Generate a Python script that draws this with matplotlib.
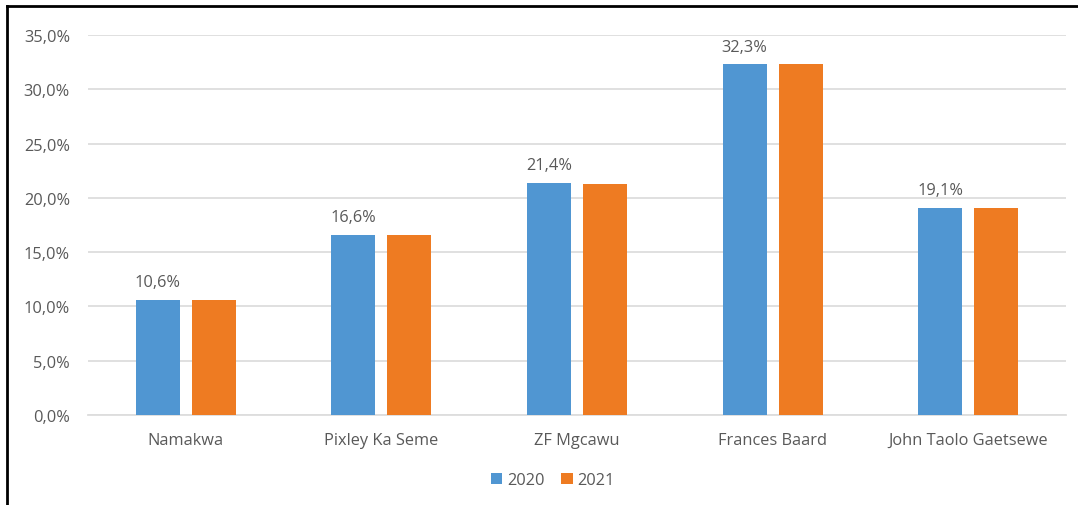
import matplotlib
matplotlib.use("Agg")
import matplotlib.pyplot as plt
from matplotlib.lines import Line2D
from matplotlib.ticker import FuncFormatter
import numpy as np

plt.rcParams['font.family'] = ['Open Sans', 'DejaVu Sans']

districts = ["Namakwa", "Pixley Ka Seme", "ZF Mgcawu", "Frances Baard", "John Taolo Gaetsewe"]
share_2020 = [10.6, 16.6, 21.4, 32.3, 19.1]
share_2021 = [10.6, 16.6, 21.3, 32.3, 19.1]
series_labels = ["2020", "2021"]
yticks = [0, 5, 10, 15, 20, 25, 30, 35]

blue = "#5096D2"
orange = "#EE7B22"
text_grey = "#595959"
grid_grey = "#DDDDDD"
fs = 11.8

fig = plt.figure(figsize=(10.78, 5.06), dpi=100)
ax = fig.add_axes([88 / 1078, 1 - 416 / 506, (1066 - 88) / 1078, (416 - 36) / 506])

x = np.arange(len(districts))
w = 0.225
off = 0.143
b1 = ax.bar(x - off, share_2020, width=w, color=blue, label=series_labels[0], zorder=3)
b2 = ax.bar(x + off, share_2021, width=w, color=orange, label=series_labels[1], zorder=3)

for rect, v in zip(b1, share_2020):
    ax.annotate(f"{v:.1f}%".replace(".", ","),
                xy=(rect.get_x() + rect.get_width() / 2, rect.get_height()),
                xytext=(0, 7), textcoords="offset points",
                ha="center", va="bottom", fontsize=fs, color=text_grey)

ax.set_xlim(-0.5, len(districts) - 0.5)
ax.set_ylim(0, 35)
ax.set_yticks(yticks)
ax.yaxis.set_major_formatter(FuncFormatter(lambda v, p: f"{v:.1f}%".replace(".", ",")))
ax.set_xticks(x)
ax.set_xticklabels(districts)
ax.tick_params(axis="both", length=0, labelsize=fs, labelcolor=text_grey)
ax.tick_params(axis="y", pad=13)
ax.tick_params(axis="x", pad=12)

ax.grid(axis="y", color=grid_grey, linewidth=1.3, zorder=0)
for side in ["top", "right", "left"]:
    ax.spines[side].set_visible(False)
ax.spines["bottom"].set_color(grid_grey)
ax.spines["bottom"].set_linewidth(1.3)

fig.legend(handles=[b1, b2], labels=series_labels, loc="center",
           bbox_to_anchor=(553 / 1078, 1 - 481 / 506), ncol=2, frameon=False,
           fontsize=fs, labelcolor=text_grey, handlelength=0.7, handleheight=0.7,
           handletextpad=0.3, columnspacing=1.0)

# frame lines along the left and top edges
fig.add_artist(Line2D([7 / 1078, 7 / 1078], [0, 1 - 7 / 506], color="black", linewidth=2,
                      transform=fig.transFigure))
fig.add_artist(Line2D([7 / 1078, 1], [1 - 7 / 506, 1 - 7 / 506], color="black", linewidth=2,
                      transform=fig.transFigure))

fig.savefig("out.png", dpi=100)
